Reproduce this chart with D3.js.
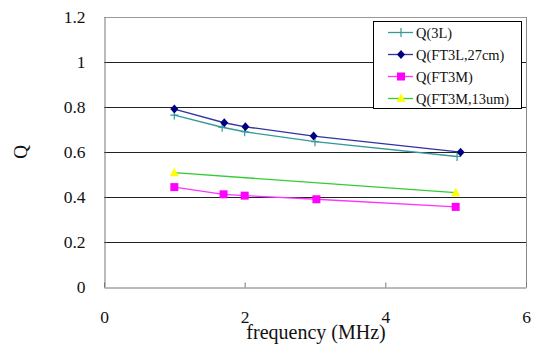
<!DOCTYPE html>
<html>
<head>
<meta charset="utf-8">
<script src="https://cdn.jsdelivr.net/npm/d3@7"></script>
<style>
  body { margin: 0; background: #fff; }
  svg, svg text { font-family: "Liberation Serif", Tinos, "Times New Roman", serif; }
</style>
</head>
<body>
<script>
// data
const freq3L = [1, 1.68, 2, 3, 5.02];
const q3L = [0.764, 0.71, 0.69, 0.646, 0.58];
const freqFT3L = [1, 1.71, 2.01, 2.98, 5.07];
const qFT3L = [0.791, 0.73, 0.712, 0.671, 0.599];
const freqFT3M = [1, 1.70, 2.0, 3.02, 5.0];
const qFT3M = [0.444, 0.412, 0.406, 0.39, 0.356];
const freqFT3M13 = [1, 5.0];
const qFT3M13 = [0.508, 0.419];
const xTicks = [0, 2, 4, 6];
const yTicks = [0, 0.2, 0.4, 0.6, 0.8, 1, 1.2];

const series = [
  { name: "Q(3L)", xs: freq3L, ys: q3L, line: "#339999", fill: "#339999", marker: "plus" },
  { name: "Q(FT3L,27cm)", xs: freqFT3L, ys: qFT3L, line: "#3333a0", fill: "#000080", marker: "diamond" },
  { name: "Q(FT3M)", xs: freqFT3M, ys: qFT3M, line: "#ff33ff", fill: "#ff00ff", marker: "square" },
  { name: "Q(FT3M,13um)", xs: freqFT3M13, ys: qFT3M13, line: "#33cc33", fill: "#ffff00", marker: "triangle" }
];

const W = 538, H = 351;
const margin = { top: 17, right: 12, bottom: 64, left: 104 };
const width = W - margin.left - margin.right;
const height = H - margin.top - margin.bottom;

const svg = d3.select("body").append("svg")
  .attr("width", W).attr("height", H)
  .attr("font-family", "Liberation Serif");

const x = d3.scaleLinear().domain([0, 6]).range([margin.left, margin.left + width]);
const y = d3.scaleLinear().domain([0, 1.2]).range([margin.top + height, margin.top]);

// gridlines
svg.append("g")
  .selectAll("line").data(yTicks.filter(d => d > 0 && d < 1.2)).enter().append("line")
  .attr("x1", x(0)).attr("x2", x(6))
  .attr("y1", d => Math.round(y(d)) + 0.5).attr("y2", d => Math.round(y(d)) + 0.5)
  .attr("stroke", "#222").attr("stroke-width", 1);

// frame: top, right
svg.append("line").attr("x1", x(0)).attr("x2", x(6))
  .attr("y1", Math.round(y(1.2)) + 0.5).attr("y2", Math.round(y(1.2)) + 0.5)
  .attr("stroke", "#999");
svg.append("line").attr("x1", Math.round(x(6)) + 0.5).attr("x2", Math.round(x(6)) + 0.5)
  .attr("y1", y(1.2)).attr("y2", y(0))
  .attr("stroke", "#888");

// y axis
const yAxis = svg.append("g")
  .attr("transform", `translate(${Math.round(x(0)) + 0.5},0)`)
  .call(d3.axisLeft(y).tickValues(yTicks).tickSize(0).tickPadding(19).tickFormat(d3.format("~g")))
  .attr("font-family", null).attr("font-size", 17.5);
yAxis.select(".domain").attr("stroke", "#777");
yAxis.selectAll("text").attr("fill", "#111");

// x axis
const xAxis = svg.append("g")
  .attr("transform", `translate(0,${Math.round(y(0)) + 0.5})`)
  .call(d3.axisBottom(x).tickValues(xTicks).tickSize(-5).tickPadding(23).tickSizeOuter(0)
    .tickFormat(d3.format("d")))
  .attr("font-family", null).attr("font-size", 17.5);
xAxis.select(".domain").attr("stroke", "#777");
xAxis.selectAll(".tick line").attr("stroke", "#777");
xAxis.selectAll("text").attr("fill", "#111");

// axis titles
svg.append("text")
  .attr("x", x(3) + 1).attr("y", 339)
  .attr("text-anchor", "middle").attr("fill", "#111").attr("font-size", 20)
  .text("frequency (MHz)");
svg.append("text")
  .attr("transform", `translate(27,${y(0.6)}) rotate(-90)`)
  .attr("text-anchor", "middle").attr("fill", "#111").attr("font-size", 19)
  .text("Q");

function drawMarker(g, type, cx, cy, fill) {
  if (type === "plus") {
    g.append("path").attr("d", `M${cx - 4},${cy}H${cx + 4}M${cx},${cy - 4.5}V${cy + 4.5}`)
      .attr("stroke", fill).attr("stroke-width", 1.2).attr("fill", "none");
  } else if (type === "diamond") {
    g.append("path").attr("d", `M${cx},${cy - 4.5}L${cx + 4},${cy}L${cx},${cy + 4.5}L${cx - 4},${cy}Z`)
      .attr("fill", fill);
  } else if (type === "square") {
    g.append("rect").attr("x", cx - 4).attr("y", cy - 4).attr("width", 8).attr("height", 8)
      .attr("fill", fill);
  } else if (type === "triangle") {
    g.append("path").attr("d", `M${cx},${cy - 5}L${cx + 4.5},${cy + 3.5}L${cx - 4.5},${cy + 3.5}Z`)
      .attr("fill", fill);
  }
}

const line = d3.line().x(d => x(d[0])).y(d => y(d[1]));

series.forEach(s => {
  const pts = s.xs.map((v, i) => [v, s.ys[i]]);
  const g = svg.append("g");
  g.append("path").attr("d", line(pts))
    .attr("fill", "none").attr("stroke", s.line).attr("stroke-width", 1.3);
  pts.forEach(p => drawMarker(g, s.marker, x(p[0]), y(p[1]), s.fill));
});

// legend
const lg = svg.append("g").attr("transform", "translate(373.5,21.5)");
lg.append("rect").attr("width", 148).attr("height", 87)
  .attr("fill", "#fff").attr("stroke", "#000").attr("stroke-width", 1);
series.forEach((s, i) => {
  const ly = 11 + i * 22;
  lg.append("line").attr("x1", 14.5).attr("x2", 39.5).attr("y1", ly).attr("y2", ly)
    .attr("stroke", s.line).attr("stroke-width", 1.3);
  drawMarker(lg, s.marker, 27.5, ly, s.fill);
  lg.append("text").attr("x", 42.5).attr("y", ly + 5)
    .attr("fill", "#111").attr("font-size", 14.4)
    .text(s.name);
});
</script>
</body>
</html>
